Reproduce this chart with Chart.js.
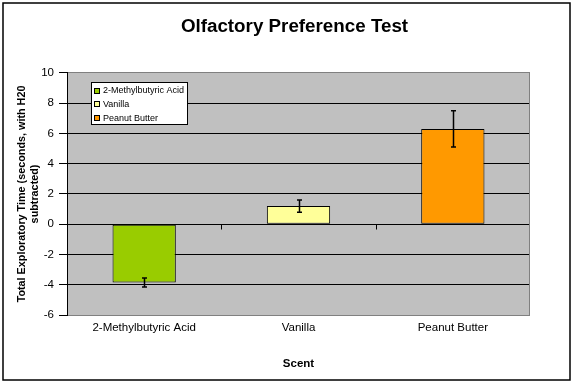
<!DOCTYPE html>
<html>
<head>
<meta charset="utf-8">
<script src="https://cdn.jsdelivr.net/npm/chart.js@4/dist/chart.umd.min.js"></script>
<style>
  html, body { margin: 0; padding: 0; background: #fff; }
  #wrap { width: 576px; height: 385px; position: relative; }
</style>
</head>
<body>
<div id="wrap"><canvas id="c" width="576" height="385"></canvas></div>
<script>
const categories = ['2-Methylbutyric Acid', 'Vanilla', 'Peanut Butter'];
const values = [-3.85, 1.2, 6.3];
const errors = [0.3, 0.4, 1.2];
const barColors = ['#99CC00', '#FFFF99', '#FF9900'];
const yTicks = [-6, -4, -2, 0, 2, 4, 6, 8, 10];
const chartTitle = 'Olfactory Preference Test';
const yTitle = ['Total Exploratory Time (seconds, with H20', 'subtracted)'];
const xTitle = 'Scent';

const FONT = 'Liberation Sans, Arial, sans-serif';

const framePlugin = {
  id: 'frame',
  beforeDraw(chart) {
    const { ctx, chartArea: a } = chart;
    ctx.save();
    ctx.fillStyle = '#fff';
    ctx.fillRect(0, 0, chart.width, chart.height);
    ctx.strokeStyle = '#000';
    ctx.lineWidth = 1.5;
    ctx.strokeRect(3, 3, 567, 377);
    ctx.fillStyle = '#C0C0C0';
    ctx.fillRect(a.left, a.top, a.right - a.left, a.bottom - a.top);
    ctx.restore();
  },
  afterDatasetsDraw(chart) {
    const { ctx, chartArea: a, scales } = chart;
    const x = scales.x, y = scales.y;
    ctx.save();
    ctx.strokeStyle = '#808080';
    ctx.lineWidth = 1;
    ctx.beginPath();
    ctx.moveTo(Math.round(a.right) - 0.5, a.top);
    ctx.lineTo(Math.round(a.right) - 0.5, a.bottom);
    ctx.stroke();
    const y0 = Math.round(y.getPixelForValue(0)) + 0.5;
    ctx.strokeStyle = '#000';
    const half = (x.getPixelForTick(1) - x.getPixelForTick(0)) / 2;
    for (let i = 0; i < categories.length - 1; i++) {
      const bx = Math.round(x.getPixelForTick(i) + half) + 0.5;
      ctx.beginPath();
      ctx.moveTo(bx, y0);
      ctx.lineTo(bx, y0 + 5);
      ctx.stroke();
    }
    ctx.lineWidth = 1.5;
    const meta = chart.getDatasetMeta(0);
    meta.data.forEach((bar, i) => {
      const cx = Math.round(bar.x) + 0.5;
      const yt = y.getPixelForValue(values[i] + errors[i]);
      const yb = y.getPixelForValue(values[i] - errors[i]);
      ctx.beginPath();
      ctx.moveTo(cx, yt); ctx.lineTo(cx, yb);
      ctx.moveTo(cx - 2.5, yt); ctx.lineTo(cx + 2.5, yt);
      ctx.moveTo(cx - 2.5, yb); ctx.lineTo(cx + 2.5, yb);
      ctx.stroke();
    });
    const lx = 91, ly = 82, lw = 96, lh = 42;
    ctx.fillStyle = '#fff';
    ctx.fillRect(lx, ly, lw, lh);
    ctx.lineWidth = 1;
    ctx.strokeStyle = '#000';
    ctx.strokeRect(lx + 0.5, ly + 0.5, lw, lh);
    ctx.font = '9px ' + FONT;
    ctx.textBaseline = 'middle';
    ctx.textAlign = 'left';
    categories.forEach((c, i) => {
      const ry = ly + 8.5 + i * 13.8;
      ctx.fillStyle = barColors[i];
      ctx.fillRect(lx + 3.5, Math.round(ry - 3) + 0.5, 5, 5);
      ctx.strokeRect(lx + 3.5, Math.round(ry - 3) + 0.5, 5, 5);
      ctx.fillStyle = '#000';
      ctx.fillText(c, lx + 12, ry);
    });
    ctx.restore();
  }
};

new Chart(document.getElementById('c'), {
  type: 'bar',
  data: {
    labels: categories,
    datasets: [{
      data: values,
      backgroundColor: barColors,
      borderColor: '#000',
      borderWidth: 1,
      borderSkipped: false,
      categoryPercentage: 1,
      barPercentage: 0.41
    }]
  },
  options: {
    responsive: false,
    animation: false,
    devicePixelRatio: 1,
    layout: { padding: { left: 13, right: 0, top: 0, bottom: 0 } },
    plugins: {
      legend: { display: false },
      tooltip: { enabled: false },
      title: {
        display: true,
        text: chartTitle,
        color: '#000',
        font: { family: FONT, size: 18.8, weight: 'bold', lineHeight: 1.2 },
        padding: { top: 15.5, bottom: 34.9 }
      }
    },
    scales: {
      x: {
        grid: { display: false, drawTicks: false },
        border: { display: false },
        ticks: { color: '#000', padding: 6, font: { family: FONT, size: 11.5 }, maxRotation: 0 },
        title: {
          display: true, text: xTitle, color: '#000',
          font: { family: FONT, size: 11.5, weight: 'bold', lineHeight: 1.2 },
          padding: { top: 4, bottom: 14 }
        },
        afterFit(s) { s.height = 70; }
      },
      y: {
        min: -6, max: 10,
        afterBuildTicks(s) { s.ticks = yTicks.map(v => ({ value: v })); },
        grid: {
          color: c => (c.tick && (c.tick.value === 10 || c.tick.value === -6)) ? '#808080' : '#000',
          tickColor: '#000',
          tickLength: 8,
          lineWidth: 1
        },
        border: { display: true, color: '#000', width: 1 },
        ticks: { color: '#000', padding: 5, font: { family: FONT, size: 11.5 } },
        title: {
          display: true, text: yTitle, color: '#000',
          font: { family: FONT, size: 10.8, weight: 'bold', lineHeight: 1.22 },
          padding: { top: 2.5, bottom: 0 }
        },
        afterFit(s) { s.width = 54; }
      },
      yRight: {
        type: 'linear',
        position: 'right',
        display: true,
        grid: { display: false, drawOnChartArea: false },
        border: { display: false },
        ticks: { display: false },
        afterFit(s) { s.width = 46; }
      }
    }
  },
  plugins: [framePlugin]
});
</script>
</body>
</html>
